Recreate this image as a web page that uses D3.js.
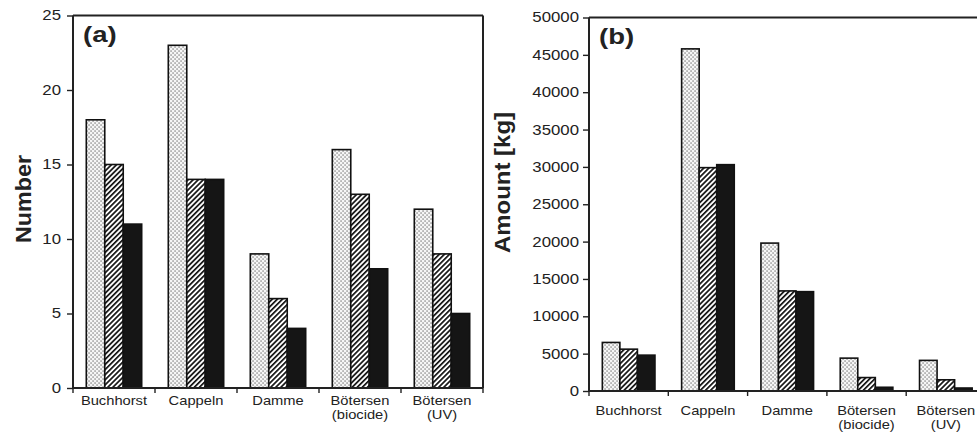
<!DOCTYPE html>
<html><head><meta charset="utf-8">
<script src="https://cdn.jsdelivr.net/npm/d3@7"></script>
<style>body{margin:0;background:#fff}svg{display:block;font-family:"Liberation Sans",Arial,sans-serif}</style>
</head><body>
<svg id="c" width="977" height="440"></svg>
<script>
const categories = ["Buchhorst","Cappeln","Damme","Bötersen\n(biocide)","Bötersen\n(UV)"];
const seriesKeys = ["s1","s2","s3"];
const numberS1 = [18,23,9,16,12];
const numberS2 = [15,14,6,13,9];
const numberS3 = [11,14,4,8,5];
const amountS1 = [6500,45800,19800,4400,4100];
const amountS2 = [5600,29900,13400,1800,1500];
const amountS3 = [4800,30300,13300,500,400];
const ticksA = [0,5,10,15,20,25];
const ticksB = [0,5000,10000,15000,20000,25000,30000,35000,40000,45000,50000];

const svg = d3.select("#c");
const defs = svg.append("defs");
// dotted pattern
const pd = defs.append("pattern").attr("id","dots").attr("patternUnits","userSpaceOnUse").attr("width",4).attr("height",4);
pd.append("rect").attr("width",4).attr("height",4).attr("fill","#f6f6f6");
pd.append("rect").attr("x",0.5).attr("y",0.5).attr("width",1.1).attr("height",1.1).attr("fill","#444");
pd.append("rect").attr("x",2.5).attr("y",2.5).attr("width",1.1).attr("height",1.1).attr("fill","#444");
// hatch pattern
const ph = defs.append("pattern").attr("id","hatch").attr("patternUnits","userSpaceOnUse").attr("width",3.6).attr("height",10).attr("patternTransform","rotate(45)");
ph.append("rect").attr("width",3.6).attr("height",10).attr("fill","#fff");
ph.append("rect").attr("x",0).attr("width",1.7).attr("height",10).attr("fill","#111");
const fills = {s1:"url(#dots)", s2:"url(#hatch)", s3:"#151515"};

function stretch(sel, f){
  sel.each(function(){ const n=this; const L=n.getComputedTextLength(); d3.select(n).attr("textLength",L*f).attr("lengthAdjust","spacingAndGlyphs"); });
}

function panel(o){
  const g = svg.append("g");
  const x0 = d3.scaleBand().domain(categories).range([o.left,o.right]).paddingInner(0).paddingOuter(0);
  const x1 = d3.scaleBand().domain(seriesKeys).range([0,x0.bandwidth()]).paddingInner(0).paddingOuter(o.pad);
  const y = d3.scaleLinear().domain([0,o.max]).range([o.bottom,o.top]);
  const vals = {s1:o.s1, s2:o.s2, s3:o.s3};
  // bars
  categories.forEach((c,i)=>{
    seriesKeys.forEach(k=>{
      g.append("rect").attr("x",x0(c)+x1(k)).attr("y",y(vals[k][i])).attr("width",x1.bandwidth()).attr("height",y(0)-y(vals[k][i]))
        .attr("fill",fills[k]).attr("stroke","#111").attr("stroke-width",1.6);
    });
  });
  // y axis
  const ya = g.append("g").attr("transform",`translate(${o.left},0)`)
    .call(d3.axisLeft(y).tickValues(o.ticks).tickSize(6).tickPadding(o.tpad).tickFormat(d3.format("d")));
  ya.select(".domain").remove();
  ya.selectAll(".tick line").attr("stroke","#222").attr("stroke-width",1.4);
  ya.selectAll("text").attr("font-size",14).attr("fill","#222").attr("font-family","Liberation Sans, Arial, sans-serif");
  stretch(ya.selectAll("text"),1.2);
  // frame lines
  g.append("line").attr("x1",o.left).attr("x2",o.left).attr("y1",y(o.max)).attr("y2",y(0)).attr("stroke","#222").attr("stroke-width",2);
  g.append("line").attr("x1",o.left).attr("x2",o.frameRight).attr("y1",y(o.max)).attr("y2",y(o.max)).attr("stroke","#222").attr("stroke-width",2);
  if(o.rightBorder) g.append("line").attr("x1",o.right).attr("x2",o.right).attr("y1",y(o.max)).attr("y2",y(0)).attr("stroke","#222").attr("stroke-width",2);
  g.append("line").attr("x1",o.left).attr("x2",o.right).attr("y1",y(0)).attr("y2",y(0)).attr("stroke","#222").attr("stroke-width",2);
  // x boundary ticks
  const bounds = categories.map(c=>x0(c)).concat([o.right]);
  bounds.forEach(b=>g.append("line").attr("x1",b).attr("x2",b).attr("y1",y(0)).attr("y2",y(0)+5).attr("stroke","#222").attr("stroke-width",1.4));
  // category labels
  categories.forEach(c=>{
    const t = g.append("text").attr("x",x0(c)+x0.bandwidth()/2).attr("y",o.labY).attr("text-anchor","middle").attr("font-size",13).attr("fill","#222");
    c.split("\n").forEach((ln,j)=>{
      const ts = t.append("tspan").attr("x",x0(c)+x0.bandwidth()/2).attr("dy", j===0?0:14).text(ln);
    });
    t.selectAll("tspan").each(function(){ const L=this.getComputedTextLength(); d3.select(this).attr("textLength",L*1.13).attr("lengthAdjust","spacingAndGlyphs"); });
  });
  // panel letter
  const pl = g.append("text").attr("x",o.left+10).attr("y",y(o.max)+26).attr("font-size",22).attr("font-weight","bold").attr("fill","#222").text(o.letter);
  stretch(pl,1.25);
  // y title
  const yt = g.append("text").attr("transform",`translate(${o.ytX},${o.ytY}) rotate(-90)`).attr("text-anchor","middle")
    .attr("font-size",22).attr("font-weight","bold").attr("fill","#222").text(o.ytitle);
  yt.attr("textLength",o.ytLen).attr("lengthAdjust","spacingAndGlyphs");
}

panel({left:73,right:483,frameRight:483,rightBorder:true,top:15.5,bottom:388,max:25,ticks:ticksA,tpad:6,pad:0.72,
  s1:numberS1,s2:numberS2,s3:numberS3,labY:405,letter:"(a)",ytitle:"Number",ytX:31,ytY:199,ytLen:88});
panel({left:589,right:589+5*79.3,frameRight:977,rightBorder:false,top:17.5,bottom:391,max:50000,ticks:ticksB,tpad:4,pad:0.76,
  s1:amountS1,s2:amountS2,s3:amountS3,labY:415,letter:"(b)",ytitle:"Amount [kg]",ytX:510,ytY:182.5,ytLen:141});
</script>
</body></html>
